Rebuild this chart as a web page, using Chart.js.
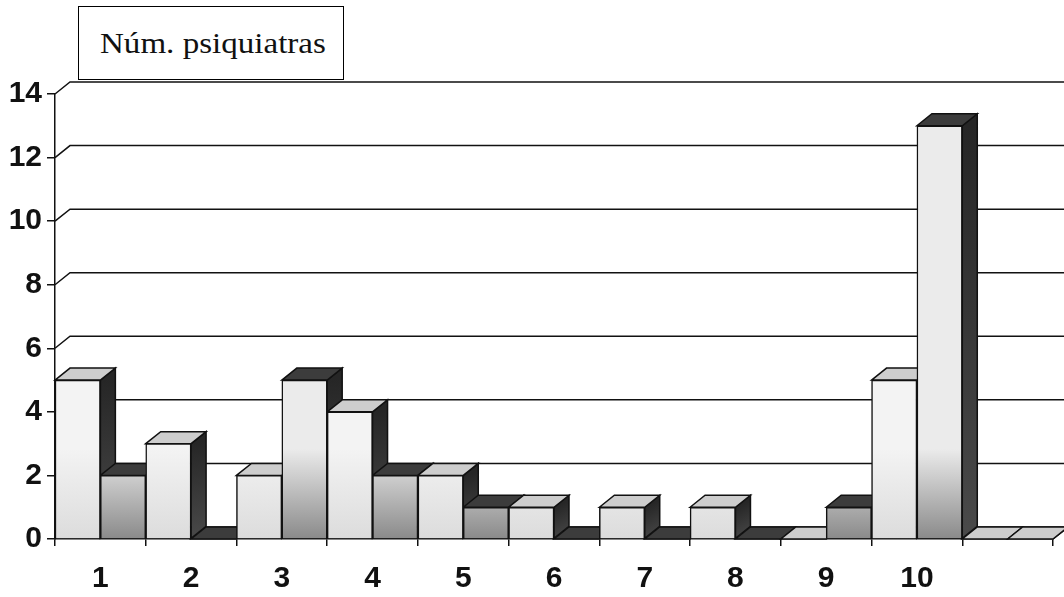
<!DOCTYPE html>
<html>
<head>
<meta charset="utf-8">
<script src="https://cdn.jsdelivr.net/npm/chart.js@4"></script>
<style>
  html, body { margin: 0; padding: 0; background: #fff; }
  #wrap { position: relative; width: 1064px; height: 597px; }
  #box {
    position: absolute; left: 78px; top: 6px; width: 266px; height: 74px;
    border: 1.5px solid #000; box-sizing: border-box; background: #fff;
    font-family: "Liberation Serif", "DejaVu Serif", serif; font-size: 29px;
    line-height: 72px; color: #111; overflow: hidden;
  }
  #box span { display: inline-block; transform: scaleX(1.14); transform-origin: left center; margin-left: 21px; }
</style>
</head>
<body>
<div id="wrap">
  <canvas id="chart" width="1064" height="597"></canvas>
  <div id="box"><span>Núm. psiquiatras</span></div>
</div>
<script>
// datos del gráfico
const categories = ['1', '2', '3', '4', '5', '6', '7', '8', '9', '10', ''];
const serieA = [5, 3, 2, 4, 2, 1, 1, 1, 0, 5, 0];
const serieB = [2, 0, 5, 2, 1, 0, 0, 0, 1, 13, 0];
const yTicks = [0, 2, 4, 6, 8, 10, 12, 14];

const DX = 15, DY = -12;

// caras laterales y superiores (efecto 3D) + rejilla de la pared trasera
const threeD = {
  id: 'threeD',
  beforeDatasetsDraw(chart) {
    const ctx = chart.ctx;
    const y = chart.scales.y;
    const area = chart.chartArea;
    ctx.save();
    ctx.strokeStyle = '#111';
    ctx.lineWidth = 1.5;
    y.ticks.forEach(t => {
      const py = y.getPixelForValue(t.value);
      ctx.beginPath();
      ctx.moveTo(area.left, py);
      ctx.lineTo(area.left + DX, py + DY);
      ctx.lineTo(chart.width, py + DY);
      ctx.stroke();
    });

    const bars = [];
    chart.data.datasets.forEach((ds, i) => {
      chart.getDatasetMeta(i).data.forEach((el, j) => {
        const p = el.getProps(['x', 'y', 'base', 'width'], true);
        bars.push({ x: p.x, y: p.y, base: p.base, width: p.width, ds: i, idx: j });
      });
    });
    bars.sort((a, b) => a.x - b.x);

    bars.forEach(b => {
      const l = b.x - b.width / 2, r = b.x + b.width / 2;
      // lateral
      const gs = ctx.createLinearGradient(r, b.y, r + DX, b.base);
      gs.addColorStop(0, '#262626');
      gs.addColorStop(1, '#4a4a4a');
      ctx.beginPath();
      ctx.moveTo(r, b.y);
      ctx.lineTo(r + DX, b.y + DY);
      ctx.lineTo(r + DX, b.base + DY);
      ctx.lineTo(r, b.base);
      ctx.closePath();
      ctx.fillStyle = gs;
      ctx.fill();
      ctx.stroke();
      // superior
      ctx.beginPath();
      ctx.moveTo(l, b.y);
      ctx.lineTo(l + DX, b.y + DY);
      ctx.lineTo(r + DX, b.y + DY);
      ctx.lineTo(r, b.y);
      ctx.closePath();
      const last = b.idx === categories.length - 1;
      ctx.fillStyle = (b.ds === 0 || last) ? '#cdcdcd' : '#3c3c3c';
      ctx.fill();
      ctx.stroke();
    });
    ctx.restore();
  }
};

function frontFill(light, dark) {
  return function(c) {
    const a = c.chart.chartArea;
    if (!a) return light;
    const g = c.chart.ctx.createLinearGradient(0, a.bottom - 90, 0, a.bottom);
    g.addColorStop(0, light);
    g.addColorStop(1, dark);
    return g;
  };
}

const tickFont = { family: '"Liberation Sans", Arial, sans-serif', size: 30, weight: 'bold' };

new Chart(document.getElementById('chart').getContext('2d'), {
  type: 'bar',
  data: {
    labels: categories,
    datasets: [
      {
        label: 'A',
        data: serieA,
        backgroundColor: frontFill('#f3f3f3', '#dcdcdc'),
        borderColor: '#111',
        borderWidth: 1.5,
        categoryPercentage: 1,
        barPercentage: 1
      },
      {
        label: 'B',
        data: serieB,
        backgroundColor: frontFill('#ebebeb', '#8a8a8a'),
        borderColor: '#111',
        borderWidth: 1.5,
        categoryPercentage: 1,
        barPercentage: 1
      }
    ]
  },
  options: {
    responsive: false,
    animation: false,
    layout: { padding: { top: 94, right: 11, left: 0, bottom: 0 } },
    plugins: {
      legend: { display: false },
      tooltip: { enabled: false },
      title: { display: false }
    },
    scales: {
      x: {
        grid: { display: true, drawOnChartArea: false, drawTicks: true, tickLength: 7, color: '#111', lineWidth: 1.5 },
        border: { display: true, color: '#111', width: 1.5 },
        ticks: { color: '#111', font: tickFont, padding: 15, maxRotation: 0 },
        afterFit: s => { s.height = 58; }
      },
      y: {
        min: 0,
        max: 14,
        grid: { display: true, drawOnChartArea: false, drawTicks: true, tickLength: 8, color: '#111', lineWidth: 1.5 },
        border: { display: true, color: '#111', width: 1.5 },
        ticks: {
          color: '#111',
          font: tickFont,
          padding: 5,
          stepSize: 2,
          callback: v => yTicks.includes(v) ? String(v) : ''
        },
        afterFit: s => { s.width = 55; }
      }
    }
  },
  plugins: [threeD]
});
</script>
</body>
</html>
